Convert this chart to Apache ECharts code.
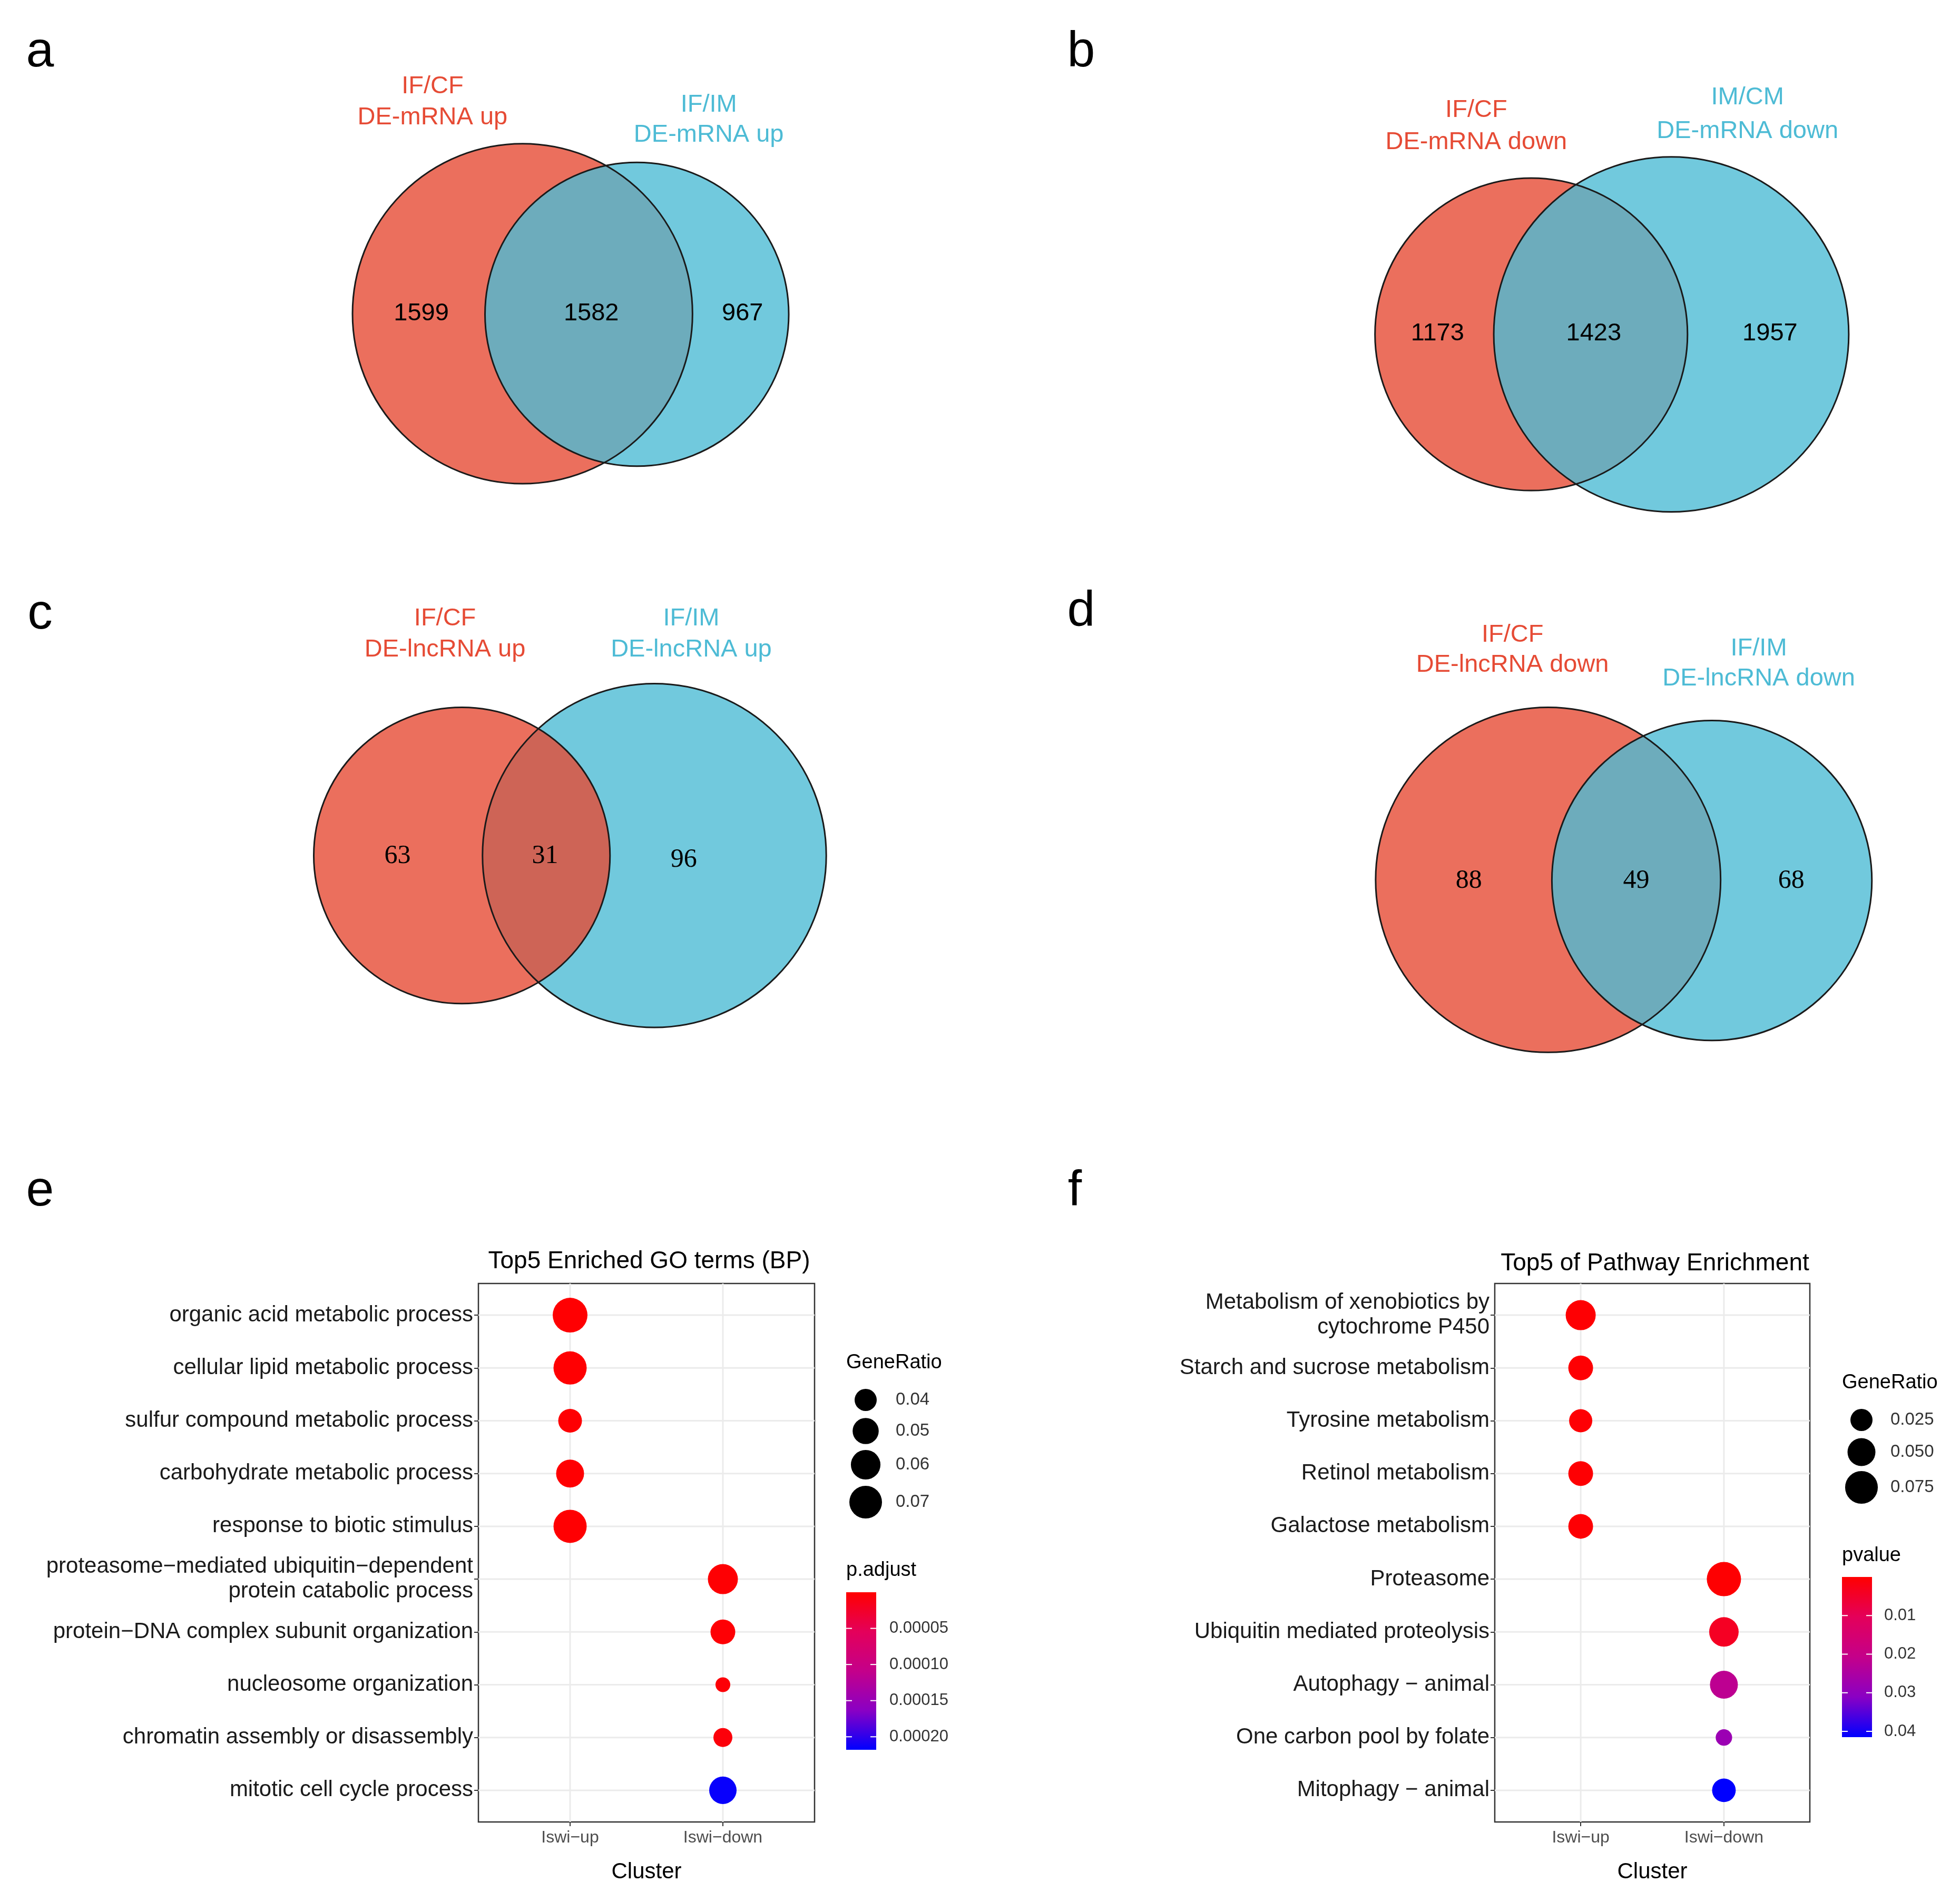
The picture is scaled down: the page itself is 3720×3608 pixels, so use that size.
<!DOCTYPE html>
<html><head><meta charset="utf-8">
<script src="https://cdn.jsdelivr.net/npm/echarts@6/dist/echarts.min.js"></script>
<style>html,body{margin:0;padding:0;background:#fff}#c{width:3720px;height:3608px}</style>
</head><body><div id="c"></div>
<script>
// ---------- Venn data (units: 1 = 1/1568 of page width) ----------
const RED = '#E64B35', BLUE = '#4DBBD5';
const vennA_circles = [[418,251,136,RED],[509.5,251.5,121.5,BLUE]];
const vennA_counts = [[337,251,'1599'],[473,251,'1582'],[594,251,'967']];
const vennA_titles = [[346,69,'IF/CF',RED],[346,94,'DE-mRNA up',RED],[567,84,'IF/IM',BLUE],[567,108,'DE-mRNA up',BLUE]];
const vennB_circles = [[1225,267.5,125,RED],[1337,267.5,142,BLUE]];
const vennB_counts = [[1150,267,'1173'],[1275,267,'1423'],[1416,267,'1957']];
const vennB_titles = [[1181,88,'IF/CF',RED],[1181,114,'DE-mRNA down',RED],[1398,78,'IM/CM',BLUE],[1398,105,'DE-mRNA down',BLUE]];
const vennC_circles = [[523.5,684.5,137.5,BLUE],[369.5,684.5,118.5,RED]];
const vennC_counts = [[318,685,'63'],[436,685,'31'],[547,688,'96']];
const vennC_titles = [[356,495,'IF/CF',RED],[356,520,'DE-lncRNA up',RED],[553,495,'IF/IM',BLUE],[553,520,'DE-lncRNA up',BLUE]];
const vennD_circles = [[1238.5,704,138,RED],[1369.5,704.5,128,BLUE]];
const vennD_counts = [[1175,705,'88'],[1309,705,'49'],[1433,705,'68']];
const vennD_titles = [[1210,508,'IF/CF',RED],[1210,532,'DE-lncRNA down',RED],[1407,519,'IF/IM',BLUE],[1407,543,'DE-lncRNA down',BLUE]];

// ---------- Dot plot data ----------
const clusters = ['Iswi\u2212up','Iswi\u2212down'];
const goTerms = ['organic acid metabolic process','cellular lipid metabolic process','sulfur compound metabolic process','carbohydrate metabolic process','response to biotic stimulus','proteasome\u2212mediated ubiquitin\u2212dependent\nprotein catabolic process','protein\u2212DNA complex subunit organization','nucleosome organization','chromatin assembly or disassembly','mitotic cell cycle process'];
const goCluster = [1,1,1,1,1,2,2,2,2,2];
const goRatio = [0.0774,0.0718,0.0438,0.0551,0.0718,0.0614,0.0464,0.0259,0.0332,0.0536];
const goPadj = [0.000001,0.000001,0.000002,0.000001,0.000001,0.000002,0.000003,0.000004,0.000006,0.000215];
const goRatioBreaks = [0.04,0.05,0.06,0.07];
const goPBreaks = [0.00005,0.00010,0.00015,0.00020];

const pwTerms = ['Metabolism of xenobiotics by\ncytochrome P450','Starch and sucrose metabolism','Tyrosine metabolism','Retinol metabolism','Galactose metabolism','Proteasome','Ubiquitin mediated proteolysis','Autophagy \u2212 animal','One carbon pool by folate','Mitophagy \u2212 animal'];
const pwCluster = [1,1,1,1,1,2,2,2,2,2];
const pwRatio = [0.0605,0.0356,0.0291,0.0356,0.0356,0.0839,0.0578,0.0500,0.0060,0.0310];
const pwP = [0.0003,0.0004,0.0005,0.0004,0.0005,0.0002,0.004,0.022,0.028,0.0415];
const pwRatioBreaks = [0.025,0.050,0.075];
const pwPBreaks = [0.01,0.02,0.03,0.04];

const FONT = 'Liberation Sans';
const GRAD = ['#FF0000','#E4005A','#C4008A','#8A00C4','#0000FF'];
const sizeGO = r => Math.sqrt(Math.max(300, 1764 + 69300*(r-0.04)));
const sizePW = r => Math.sqrt(Math.max(300, 1764 + 41800*(r-0.025)));
const GO_PMAX = 0.000218, PW_PMAX = 0.0415;

function vennSeries(circles, counts, titles, serif){
  return {type:'custom', xAxisIndex:0, yAxisIndex:0, data:[[0,0]], silent:true, z:5,
    renderItem:(params, api)=>{
      const ch = [];
      circles.forEach(c=>{const p=api.coord([c[0],c[1]]); const r=api.size([c[2],0])[0];
        ch.push({type:'circle', shape:{cx:p[0],cy:p[1],r:r}, style:{fill:c[3],opacity:0.8}});});
      circles.forEach(c=>{const p=api.coord([c[0],c[1]]); const r=api.size([c[2],0])[0];
        ch.push({type:'circle', shape:{cx:p[0],cy:p[1],r:r}, style:{fill:'none',stroke:'#1a1a1a',lineWidth:3}});});
      counts.forEach(t=>{const p=api.coord([t[0],t[1]]);
        ch.push({type:'text', style:{x:p[0],y:p[1],text:t[2],fill:'#000',font:(serif?'50px "Liberation Serif"':'47px "Liberation Sans"'),align:'center',verticalAlign:'middle'}});});
      titles.forEach(t=>{const p=api.coord([t[0],t[1]]);
        ch.push({type:'text', style:{x:p[0],y:p[1],text:t[2],fill:t[3],font:'47px "Liberation Sans"',align:'center',verticalAlign:'middle'}});});
      return {type:'group', children:ch};
    }};
}

function dotPieces(idx, terms, clus, ratio, pv, sizeFn){
  const data = terms.map((t,i)=>[clus[i], i+1, ratio[i], pv[i]]);
  const gridSeries = {type:'custom', xAxisIndex:idx, yAxisIndex:idx, data:[[1,1]], silent:true, z:1,
    renderItem:(params, api)=>{
      const cs = params.coordSys; const ch = [];
      terms.forEach((t,i)=>{ const y = api.coord([1, i+1])[1];
        ch.push({type:'line', shape:{x1:cs.x,y1:y,x2:cs.x+cs.width,y2:y}, style:{stroke:'#EBEBEB',lineWidth:3}}); });
      clusters.forEach((c,i)=>{ const x = api.coord([i+1, 1])[0];
        ch.push({type:'line', shape:{x1:x,y1:cs.y,x2:x,y2:cs.y+cs.height}, style:{stroke:'#EBEBEB',lineWidth:3}}); });
      return {type:'group', children:ch};
    }};
  return [gridSeries,
    {type:'scatter', xAxisIndex:idx, yAxisIndex:idx, data:data, symbolSize:v=>sizeFn(v[2]), z:10, itemStyle:{opacity:1}}];
}

function dotAxes(gi, terms){
  return {
    x:{type:'value', gridIndex:gi, min:0.4, max:2.6, splitLine:{show:false}, axisLine:{show:false},
      axisTick:{show:true, customValues:[1,2], length:8, lineStyle:{color:'#333',width:2}},
      axisLabel:{customValues:[1,2], formatter:v=>clusters[Math.round(v)-1]||'', fontFamily:FONT, fontSize:32, color:'#4d4d4d', margin:14},
      name:'Cluster', nameLocation:'middle', nameGap:74, nameTextStyle:{fontFamily:FONT,fontSize:42,color:'#000'}},
    y:{type:'value', gridIndex:gi, min:0.4, max:10.6, inverse:true, splitLine:{show:false}, axisLine:{show:false},
      axisTick:{show:true, customValues:[1,2,3,4,5,6,7,8,9,10], length:8, lineStyle:{color:'#333',width:2}},
      axisLabel:{customValues:[1,2,3,4,5,6,7,8,9,10], formatter:v=>terms[Math.round(v)-1]||'', fontFamily:FONT, fontSize:42, color:'#1a1a1a', lineHeight:47, align:'right', margin:10}}
  };
}
const eAx = dotAxes(1, goTerms), fAx = dotAxes(2, pwTerms);

function legendGraphic(x0, titleY, circY, labX, breaks, sizeFn, fmt, pTitle, pTitleY, barTop, barBot, pmax, pBreaks, pfmt){
  const g = [];
  g.push({type:'text', left:x0, top:titleY-22, style:{text:'GeneRatio', font:'38px "Liberation Sans"', fill:'#000'}});
  breaks.forEach((b,i)=>{ const d=sizeFn(b);
    g.push({type:'circle', shape:{cx:x0+37, cy:circY[i], r:d/2}, style:{fill:'#000'}});
    g.push({type:'text', x:labX, y:circY[i], style:{text:fmt(b), font:'33px "Liberation Sans"', fill:'#333', verticalAlign:'middle'}});
  });
  g.push({type:'text', left:x0, top:pTitleY-22, style:{text:pTitle, font:'38px "Liberation Sans"', fill:'#000'}});
  g.push({type:'rect', shape:{x:x0, y:barTop, width:57, height:barBot-barTop},
    style:{fill:{type:'linear',x:0,y:0,x2:0,y2:1,colorStops:GRAD.map((c,i)=>({offset:i/(GRAD.length-1),color:c}))}}});
  pBreaks.forEach(b=>{ const y = barTop + b/pmax*(barBot-barTop);
    g.push({type:'line', shape:{x1:x0,y1:y,x2:x0+11,y2:y}, style:{stroke:'#fff',lineWidth:2}});
    g.push({type:'line', shape:{x1:x0+46,y1:y,x2:x0+57,y2:y}, style:{stroke:'#fff',lineWidth:2}});
    g.push({type:'text', x:labX-12, y:y, style:{text:pfmt(b), font:'31px "Liberation Sans"', fill:'#333', verticalAlign:'middle'}});
  });
  return g;
}
const letters = [['a',76,100],['b',2052,100],['c',76,1167],['d',2052,1162],['e',76,2262],['f',2040,2262]];
const graphics = letters.map(l=>({type:'text', x:l[1], y:l[2], style:{text:l[0], font:'95px "Liberation Sans"', fill:'#000', align:'center', verticalAlign:'middle'}}))
 .concat(legendGraphic(1606, 2590, [2657,2716,2780,2851], 1700, goRatioBreaks, sizeGO, b=>b.toFixed(2), 'p.adjust', 2984, 3022, 3321, GO_PMAX, goPBreaks, b=>b.toFixed(5)))
 .concat(legendGraphic(3496, 2628, [2695,2756,2823], 3588, pwRatioBreaks, sizePW, b=>b.toFixed(3), 'pvalue', 2956, 2993, 3297, PW_PMAX, pwPBreaks, b=>b.toFixed(2)));

const option = {
  backgroundColor:'#fff', animation:false,
  title:[
    {text:'Top5 Enriched GO terms (BP)', left:1227, top:2366, textAlign:'center', textStyle:{fontFamily:FONT,fontSize:46,fontWeight:'normal',color:'#000'}},
    {text:'Top5 of Pathway Enrichment', left:3136, top:2370, textAlign:'center', textStyle:{fontFamily:FONT,fontSize:46,fontWeight:'normal',color:'#000'}}
  ],
  grid:[
    {left:0, top:0, width:3720, height:3608, show:false},
    {left:908, top:2436, width:638, height:1022, show:true, borderColor:'#333', borderWidth:2.5, backgroundColor:'#fff'},
    {left:2837, top:2436, width:598, height:1022, show:true, borderColor:'#333', borderWidth:2.5, backgroundColor:'#fff'}
  ],
  xAxis:[{type:'value', gridIndex:0, min:0, max:1568, show:false}, eAx.x, fAx.x],
  yAxis:[{type:'value', gridIndex:0, min:0, max:1521, inverse:true, show:false}, eAx.y, fAx.y],
  visualMap:[
    {type:'continuous', show:false, seriesIndex:[5], dimension:3, min:0, max:GO_PMAX, inRange:{color:GRAD}},
    {type:'continuous', show:false, seriesIndex:[7], dimension:3, min:0, max:PW_PMAX, inRange:{color:GRAD}}
  ],
  series:[
    vennSeries(vennA_circles, vennA_counts, vennA_titles, false),
    vennSeries(vennB_circles, vennB_counts, vennB_titles, false),
    vennSeries(vennC_circles, vennC_counts, vennC_titles, true),
    vennSeries(vennD_circles, vennD_counts, vennD_titles, true)
  ].concat(dotPieces(1, goTerms, goCluster, goRatio, goPadj, sizeGO))
   .concat(dotPieces(2, pwTerms, pwCluster, pwRatio, pwP, sizePW)),
  graphic:graphics
};
const chart = echarts.init(document.getElementById('c'), null, {renderer:'canvas'});
chart.setOption(option);
</script></body></html>
